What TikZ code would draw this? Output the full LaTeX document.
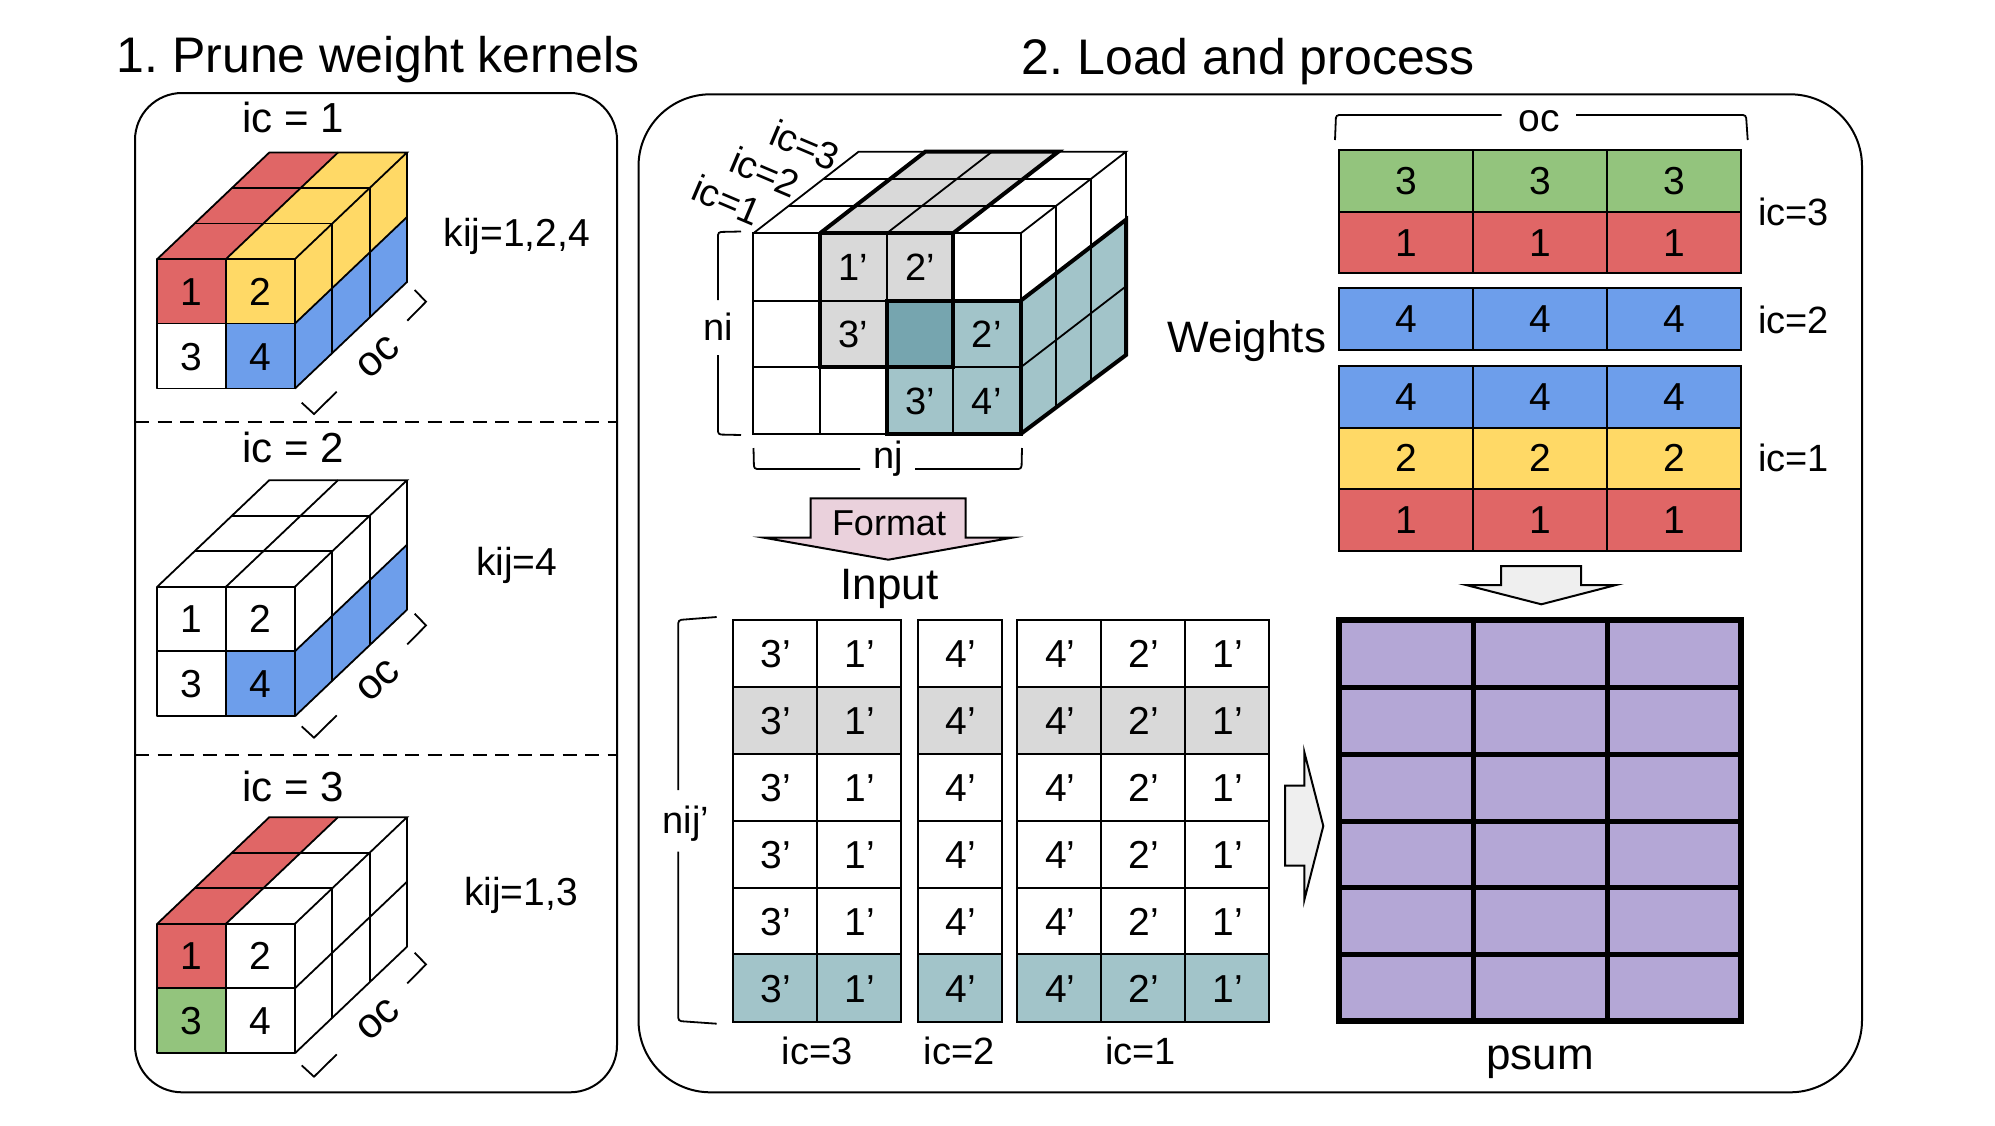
\documentclass[tikz,border=0pt]{standalone}
\usepackage{fontspec}
\setmainfont{Liberation Sans}
\frenchspacing
\definecolor{cred}{HTML}{E06666}
\definecolor{cyellow}{HTML}{FFD966}
\definecolor{cblue}{HTML}{6D9EEB}
\definecolor{cgreen}{HTML}{93C47D}
\definecolor{cteal}{HTML}{A2C4C9}
\definecolor{cdteal}{HTML}{76A5AF}
\definecolor{cgray}{HTML}{D9D9D9}
\definecolor{cpurple}{HTML}{B4A7D6}
\definecolor{cpink}{HTML}{EAD1DC}
\definecolor{clight}{HTML}{EFEFEF}
\newcommand{\fsz}[1]{\fontsize{#1}{#1}\selectfont}
\tikzset{
  thinl/.style={line width=1.8pt,draw=black},
  thickl/.style={line width=4pt,draw=black,line join=miter},
  panel/.style={line width=2pt,draw=black},
  brk/.style={line width=1.8pt,draw=black,rounded corners=3pt},
  lab/.style={inner sep=0pt,anchor=base,text=black},
  title/.style={lab,font=\fsz{50}},
  big/.style={lab,font=\fsz{44}},
  mid/.style={lab,font=\fsz{42}},
  num/.style={lab,font=\fsz{39}},
  small/.style={lab,font=\fsz{38}},
  cubenum/.style={lab,font=\fsz{38}},
  blockarrow/.style={line width=2pt,draw=black,line join=miter,miter limit=12},
}
% #1 T, #2 bracket offset, #3..#6 colours of cells 1..4, #7 id
\newcommand{\prunecube}[7]{%
\begin{scope}[shift={(0,#1)}]
  \fill[#3] (157.3,0)--(226,0)--(338,-106.5)--(269.3,-106.5)--cycle;
  \fill[#4] (226,0)--(295,0)--(407,-106.5)--(338,-106.5)--cycle;
  \fill[#3] (157.3,0) rectangle (226,64.5);
  \fill[#4] (226,0) rectangle (295,64.5);
  \fill[#5] (157.3,64.5) rectangle (226,129.5);
  \fill[#6] (226,64.5) rectangle (295,129.5);
  \fill[#4] (295,0)--(407,-106.5)--(407,-42)--(295,64.5)--cycle;
  \fill[#6] (295,64.5)--(407,-42)--(407,23)--(295,129.5)--cycle;
  \draw[thinl,line join=round] (157.3,0)--(295,0)--(295,129.5)--(157.3,129.5)--cycle;
  \draw[thinl] (157.3,64.5)--(295,64.5);
  \draw[thinl] (226,0)--(226,129.5);
  \draw[thinl] (157.3,0)--(269.3,-106.5)--(407,-106.5)--(295,0);
  \draw[thinl] (226,0)--(338,-106.5);
  \draw[thinl] (194.6,-35.5)--(332.3,-35.5);
  \draw[thinl] (232,-71)--(369.7,-71);
  \draw[thinl] (407,-106.5)--(407,23)--(295,129.5);
  \draw[thinl] (295,64.5)--(407,-42);
  \draw[thinl] (332.3,-35.5)--(332.3,94);
  \draw[thinl] (369.7,-71)--(369.7,58.5);
  \node[num] (c#7a) at (191.7,46) {1};
  \node[num] (c#7b) at (260,46) {2};
  \node[num] (c#7c) at (191.7,111) {3};
  \node[num] (c#7d) at (260,111) {4};
  \draw[line width=1.8pt] (407.3,{61.7+#2})--(426,{42.7+#2})--(414.7,{31+#2});
  \draw[line width=1.8pt] (336.7,{132.7+#2})--(314,{155+#2})--(301.7,{143.7+#2});
  \node[mid,anchor=center,rotate=42] (c#7o) at (378.3,{98+#2}) {oc};
\end{scope}}
\begin{document}
\begin{tikzpicture}[x=1pt,y=-1pt]
\useasboundingbox (0,0) rectangle (1995,1125);
\fill[white] (0,0) rectangle (1995,1125);
% titles
\node[title] (t1) at (378,72.5) {1. Prune weight kernels};
\node[title] (t2) at (1248.5,74) {2. Load and process};
% panels
\draw[panel,rounded corners=47pt] (135,93) rectangle (617,1092.3);
\draw[panel,rounded corners=72pt] (638.5,94.3) rectangle (1862,1092.3);
\draw[line width=2pt,dash pattern=on 14pt off 8.5pt] (135,422.3)--(617,422.3);
\draw[line width=2pt,dash pattern=on 14pt off 8.5pt] (135,755)--(617,755);
% left column
\node[mid] (ic1) at (293,132.7) {ic = 1};
\node[mid] (ic2) at (293,462.7) {ic = 2};
\node[mid] (ic3) at (293,801) {ic = 3};
\prunecube{259}{0}{cred}{cyellow}{white}{cblue}{one}
\prunecube{586.7}{-4}{white}{white}{white}{cblue}{two}
\prunecube{923.7}{-2}{cred}{white}{cgreen}{white}{thr}
\node[num] (k1) at (516.7,246) {kij=1,2,4};
\node[num] (k2) at (516.7,575) {kij=4};
\node[num] (k3) at (521,905.7) {kij=1,3};
% big cube fills
\fill[cgray] (820,233.3)--(953,233.3)--(1058.3,151.7)--(925.3,151.7)--cycle;
\fill[cgray] (820,233.3)--(953,233.3)--(953,300.7)--(886.7,300.7)--(886.7,367.3)--(820,367.3)--cycle;
\fill[cteal] (886.7,367.3)--(886.7,434)--(1020.7,434)--(1020.7,300.7)--(953,300.7)--(953,367.3)--cycle;
\fill[cdteal] (886.7,300.7) rectangle (953,367.3);
\fill[cteal] (1020.7,300.7)--(1126,219.7)--(1126,355)--(1020.7,434)--cycle;
% big cube thin lines
\draw[thinl] (753.3,233.3) rectangle (1020.7,434);
\draw[thinl] (753.3,300.7)--(1020.7,300.7) (753.3,367.3)--(1020.7,367.3);
\draw[thinl] (820,233.3)--(820,434) (886.7,233.3)--(886.7,434) (953,233.3)--(953,434);
\draw[thinl] (753.3,233.3)--(858.6,151.7)--(1126,151.7)--(1020.7,233.3);
\draw[thinl] (886.7,233.3)--(992,151.7);
\draw[thinl] (788.4,206.1)--(1055.8,206.1) (823.5,178.9)--(1090.9,178.9);
\draw[thinl] (1126,151.7)--(1126,355)--(1020.7,434);
\draw[thinl] (1020.7,367.3)--(1126,286.3);
\draw[thinl] (1055.8,206.1)--(1055.8,407) (1090.9,178.9)--(1090.9,380);
% big cube thick lines
\draw[thickl] (820,233.3)--(925.3,151.7)--(1058.3,151.7)--(953,233.3);
\draw[thickl] (820,233.3)--(953,233.3)--(953,367.3) (820,233.3)--(820,367.3)--(886.7,367.3);
\draw[thickl] (886.7,300.7) rectangle (953,367.3);
\draw[thickl] (953,300.7)--(1020.7,300.7)--(1020.7,434)--(886.7,434)--(886.7,367.3);
\draw[thickl] (1020.7,300.7)--(1126,219.7)--(1126,355)--(1020.7,434);
% big cube text
\node[cubenum] (b1) at (853,280) {1’};
\node[cubenum] (b2) at (920,280) {2’};
\node[cubenum] (b3) at (853,347) {3’};
\node[cubenum] (b4) at (986.7,347) {2’};
\node[cubenum] (b5) at (920,414) {3’};
\node[cubenum] (b6) at (986.7,414) {4’};
\node[small,anchor=center,rotate=-23] (l1) at (727,200) {ic=1};
\node[small,anchor=center,rotate=-23] (l2) at (765,172) {ic=2};
\node[small,anchor=center,rotate=-23] (l3) at (805,145) {ic=3};
% ni, nj brackets
\draw[brk] (741,231.5)--(718,232)--(718,300);
\draw[brk] (718,355)--(718,434.5)--(741,435);
\node[small] (ni) at (718,340) {ni};
\draw[brk] (753.5,448)--(754,469)--(860,469);
\draw[brk] (915,469)--(1021.5,469)--(1022,448);
\node[small] (nj) at (888,468.3) {nj};
% format arrow
\draw[blockarrow,fill=cpink] (810.7,498.3)--(965.7,498.3)--(965.7,537.7)--(1012,537.7)--(888.3,559.7)--(764,537.7)--(810.7,537.7)--cycle;
\node[lab,font=\fsz{36}] (fmt) at (889,535) {Format};
\node[big] (inp) at (889.3,599.3) {Input};
% input grids
\foreach \ya/\yb/\fc/\rn in {620.3/687/white/1,687/754/cgray/2,754/821/white/3,821/887.7/white/4,887.7/954.3/white/5,954.3/1021.7/cteal/6}{
  \foreach \xa/\xb/\lb/\cn in {733/816.7/3/a,816.7/901/1/b,917.7/1002/4/c,1017.3/1101.3/4/d,1101.3/1185/2/e,1185/1269/1/f}{
    \draw[thinl,fill=\fc] (\xa,\ya) rectangle (\xb,\yb);
    \pgfmathsetmacro{\cx}{(\xa+\xb)/2+1}
    \pgfmathsetmacro{\cy}{(\ya+\yb)/2+14}
    \node[num] (i\rn\cn) at (\cx,\cy) {\lb’};
  }
}
\draw[brk] (716.7,617)--(678.3,620)--(678.3,790);
\draw[brk] (678.3,851.7)--(678.3,1021)--(716.7,1023.7);
\node[small] (nij) at (685.7,833) {nij’};
\node[small] (ib3) at (817.3,1064) {ic=3};
\node[small] (ib2) at (959.3,1064) {ic=2};
\node[small] (ib1) at (1140.7,1064) {ic=1};
% weights
\draw[brk] (1335,140)--(1336,115)--(1501.7,115);
\draw[brk] (1576,115)--(1746,115)--(1747.7,140);
\node[num] (oc) at (1539,131) {oc};
\foreach \ya/\yb/\fc/\lb/\rn in {150/211.7/cgreen/3/1,211.7/273.3/cred/1/2,288.3/350.3/cblue/4/3,366/427.7/cblue/4/4,427.7/489/cyellow/2/5,489/550.7/cred/1/6}{
  \foreach \xa/\xb/\cn in {1339/1473.3/a,1473.3/1607.3/b,1607.3/1741.3/c}{
    \draw[thinl,fill=\fc] (\xa,\ya) rectangle (\xb,\yb);
    \pgfmathsetmacro{\cx}{(\xa+\xb)/2+0.5}
    \pgfmathsetmacro{\cy}{(\ya+\yb)/2+13.5}
    \node[num] (w\rn\cn) at (\cx,\cy) {\lb};
  }
}
\node[big] (wt) at (1247,352.5) {Weights};
\node[small,anchor=base west] (w3) at (1758,225) {ic=3};
\node[small,anchor=base west] (w2) at (1758,333.3) {ic=2};
\node[small,anchor=base west] (w1) at (1758,471.7) {ic=1};
% arrows
\draw[blockarrow,fill=clight] (1501,566)--(1581,566)--(1581,585)--(1616,585)--(1541.3,604.3)--(1466,585)--(1501,585)--cycle;
\draw[blockarrow,fill=clight] (1285,785.7)--(1304.3,785.7)--(1304.3,752)--(1323.3,826)--(1304.3,900)--(1304.3,865.7)--(1285,865.7)--cycle;
% psum
\fill[cpurple] (1339,620) rectangle (1741.3,1021.3);
\foreach \yy in {687,754,821,887.7,954.3}{\draw[line width=5pt] (1339,\yy)--(1741.3,\yy);}
\foreach \xx in {1473.3,1607.3}{\draw[line width=5pt] (\xx,620)--(\xx,1021.3);}
\draw[line width=6pt] (1339,620) rectangle (1741.3,1021.3);
\node[big] (ps) at (1540,1069) {psum};
\end{tikzpicture}
\end{document}
